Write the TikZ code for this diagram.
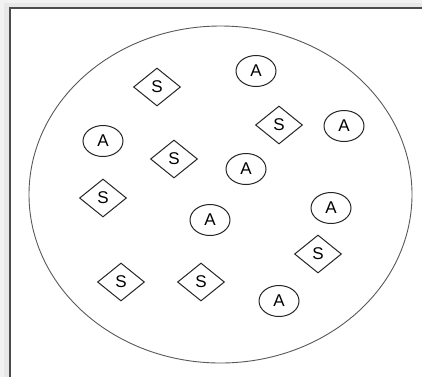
\documentclass[tikz,border=0pt]{standalone}
\usepackage{fontspec}
\setsansfont{Liberation Sans}
\usetikzlibrary{shapes.geometric}

\begin{document}
\begin{tikzpicture}[x=1pt,y=-1pt,
      agent/.style={draw=black!85, ellipse, inner sep=0pt,
        minimum width=40pt, minimum height=31pt, line width=1pt,
        font=\fontsize{17}{19}\selectfont\sffamily},
      service/.style={draw=black!85, diamond, inner sep=0pt,
        minimum width=47pt, minimum height=38pt, line width=1pt,
        font=\fontsize{17}{19}\selectfont\sffamily},
      frame/.style={draw=black!70, line width=1.6pt, fill=white},
      pool/.style={draw=black!65, line width=.9pt}]
      \useasboundingbox (0,0) rectangle (422,376);
      \clip (0,0) rectangle (422,376);

      % Window with its faint shadow, cut at the right and bottom.
      \fill[black!5] (0,0) rectangle (440,390);
      \fill[black!9] (4,3) rectangle (440,390);
      \path[frame] (10,8) rectangle (440,390);

      % The pool that holds every agent and service.
      \draw[pool] (220.5,194.5) ellipse [x radius=191.5, y radius=168.5];

      \foreach \x/\y [count=\i] in {
          157/87,279/125,174/159,103/198,318/254,121/282,201/282}{
        \node[service] (s\i) at (\x,\y) {S};}

      \foreach \x/\y [count=\i] in {
          256/71,344/126,103/141,246/169,210/220,331/208,279/301}{
        \node[agent] (a\i) at (\x,\y) {A};}
    \end{tikzpicture}
\end{document}
